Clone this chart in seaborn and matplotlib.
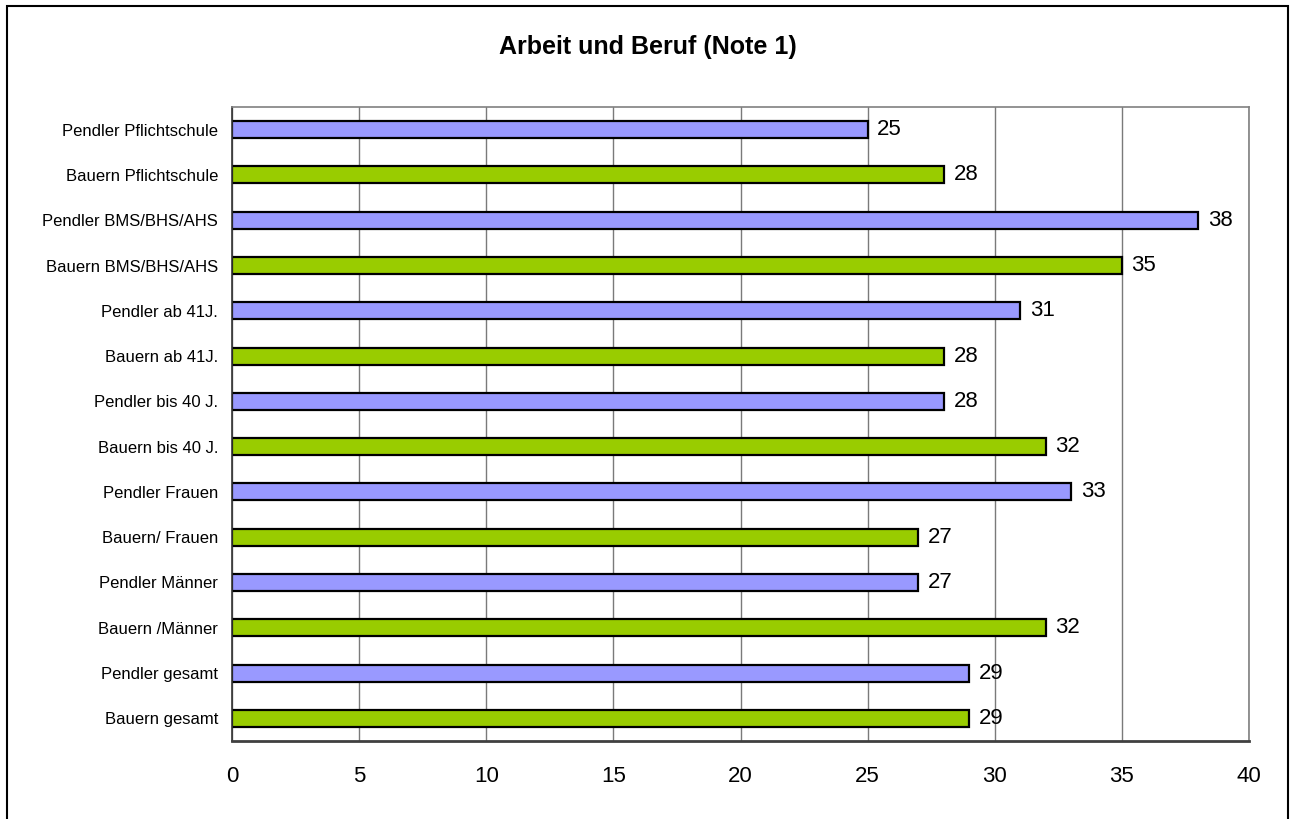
import matplotlib
matplotlib.use("Agg")
import matplotlib.pyplot as plt
import seaborn as sns
import pandas as pd
from matplotlib.patches import Rectangle

categories = [
    "Pendler Pflichtschule", "Bauern Pflichtschule",
    "Pendler BMS/BHS/AHS", "Bauern BMS/BHS/AHS",
    "Pendler ab 41J.", "Bauern ab 41J.",
    "Pendler bis 40 J.", "Bauern bis 40 J.",
    "Pendler Frauen", "Bauern/ Frauen",
    "Pendler Männer", "Bauern /Männer",
    "Pendler gesamt", "Bauern gesamt",
]
values = [25, 28, 38, 35, 31, 28, 28, 32, 33, 27, 27, 32, 29, 29]
groups = ["Pendler", "Bauern"] * 7
palette = {"Pendler": "#9999FF", "Bauern": "#99CC00"}
x_ticks = [0, 5, 10, 15, 20, 25, 30, 35, 40]
title = "Arbeit und Beruf (Note 1)"

df = pd.DataFrame({"label": categories, "value": values, "group": groups})

sns.set_style("white")
plt.rcParams["font.family"] = ["Liberation Sans", "DejaVu Sans"]
plt.rcParams["text.color"] = "black"
plt.rcParams["xtick.color"] = "black"
plt.rcParams["ytick.color"] = "black"

fig = plt.figure(figsize=(12.95, 8.19), dpi=100)
ax = fig.add_axes([232 / 1295, 1 - 741 / 819, (1249 - 232) / 1295, (741 - 107) / 819])

sns.barplot(data=df, y="label", x="value", hue="group", palette=palette,
            dodge=False, width=0.375, edgecolor="black", linewidth=1.6,
            saturation=1, legend=False, ax=ax, orient="h", order=categories)

ax.set_xlim(0, 40)
ax.set_ylim(len(categories) - 0.5, -0.5)
ax.set_xticks(x_ticks)
ax.set_xticklabels([str(t) for t in x_ticks], fontsize=16)
ax.set_xlabel("")
ax.set_ylabel("")

# y ticks at category boundaries, labels at centres
ax.set_yticks([i - 0.5 for i in range(len(categories) + 1)])
ax.set_yticklabels([])
ax.set_yticks(list(range(len(categories))), minor=True)
ax.set_yticklabels(categories, minor=True, fontsize=12)
ax.tick_params(axis="y", which="minor", length=0, pad=10)
ax.tick_params(axis="y", which="major", length=6, width=1, color="#333333", direction="out")
ax.tick_params(axis="x", length=6, width=1, color="#333333", direction="out", pad=12,
               labelcolor="black")
ax.tick_params(axis="y", which="minor", labelcolor="black")

ax.grid(axis="x", color="#7a7a7a", linewidth=1)
ax.grid(axis="y", visible=False)
ax.set_axisbelow(True)

for side in ["top", "right"]:
    ax.spines[side].set_color("#808080")
    ax.spines[side].set_linewidth(1.2)
ax.spines["left"].set_color("#333333")
ax.spines["left"].set_linewidth(1.2)
ax.spines["bottom"].set_color("#404040")
ax.spines["bottom"].set_linewidth(2)

for i, v in enumerate(values):
    ax.annotate(str(v), xy=(v, i), xytext=(7, 0), textcoords="offset points",
                va="center", ha="left", fontsize=16, color="black")

fig.text(0.5, 1 - 47 / 819, title, ha="center", va="center",
         fontsize=18, fontweight="bold", color="black")

fig.add_artist(Rectangle((7 / 1295, -0.05), (1288 - 7) / 1295, 1.05 - 6 / 819,
                         transform=fig.transFigure, fill=False,
                         edgecolor="black", linewidth=1.5))

fig.savefig("out.png", dpi=100, facecolor="white")
